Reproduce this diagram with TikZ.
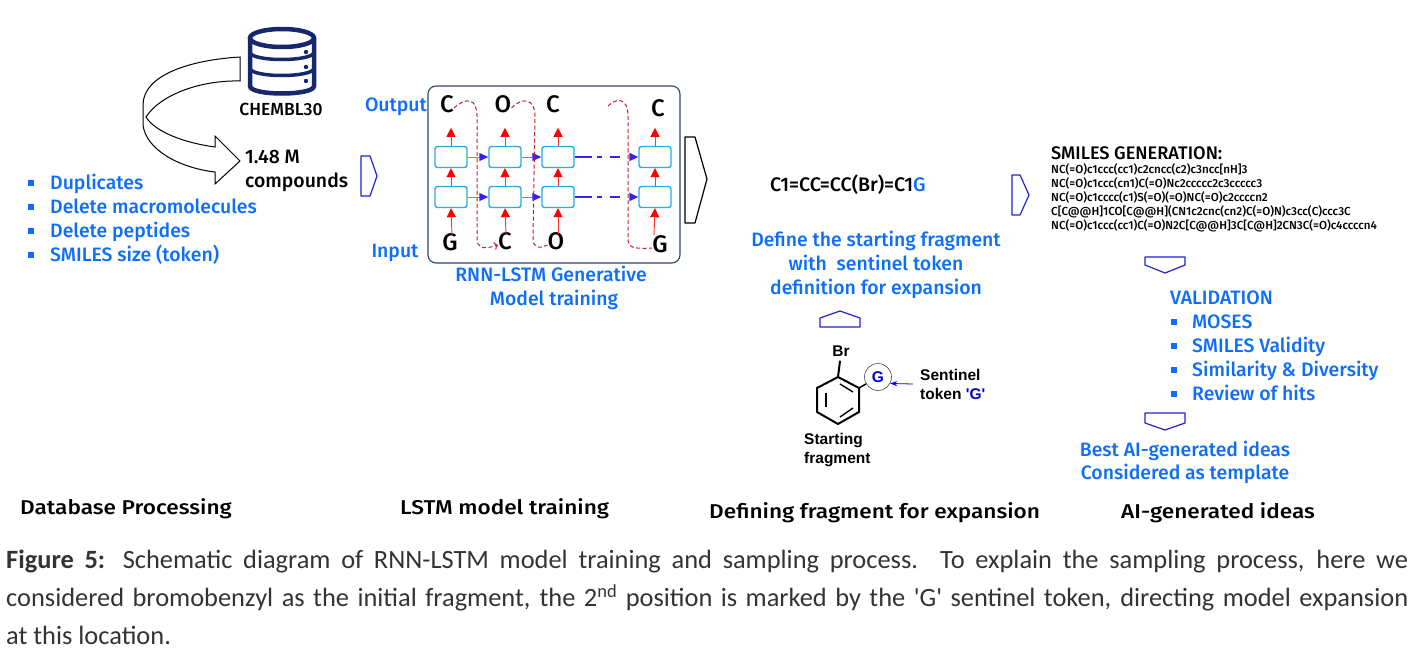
\documentclass[tikz,border=0pt]{standalone}
\usepackage{fontspec}
\usepackage{tikz}
\usepackage{xcolor}
\usetikzlibrary{arrows.meta}
\setmainfont{Carlito}
\newfontfamily\capfont{Carlito}
\newfontfamily\din[UprightFont=* Medium]{Fira Sans}
\newfontfamily\dinwide[UprightFont=* Medium,FakeStretch=1.13]{Fira Sans}
\newfontfamily\arialb{Liberation Sans Bold}
\definecolor{labelblue}{HTML}{0D6EFD}
\definecolor{navy}{HTML}{14286B}
\definecolor{chevblue}{HTML}{2222CC}
\definecolor{cellblue}{HTML}{29ABE2}
\definecolor{flowblue}{HTML}{3A1FF0}
\definecolor{framenavy}{HTML}{2F4468}
\definecolor{capgrey}{HTML}{333333}
\definecolor{loopred}{HTML}{C0202A}

\begin{document}
\begin{tikzpicture}[x=1pt,y=-1pt,
    lab/.style={font=\din\fontsize{19.4}{20}\selectfont,text height=13pt,text depth=4pt,inner sep=0pt,yshift=-2pt},
    bluelab/.style={lab,text=labelblue},
    leftlab/.style={bluelab,anchor=west},
    steplab/.style={lab,font=\dinwide\fontsize{20}{22}\selectfont,anchor=west},
    letter/.style={lab,font=\din\fontsize{24}{24}\selectfont},
    smiles/.style={font=\din\fontsize{11.6}{12}\selectfont,anchor=west,inner sep=0pt,text height=9pt,text depth=3pt},
    arial/.style={font=\arialb\fontsize{15.5}{16}\selectfont,anchor=west,inner sep=0pt,text height=11pt,text depth=4pt},
    square/.style={fill=labelblue,minimum size=5.5pt,inner sep=0pt},
    cell/.style={draw=cellblue,line width=1.4pt,rounded corners=2.5pt,fill=white,minimum width=32pt,minimum height=21pt,inner sep=0pt},
    chevron/.style={draw=chevblue,line width=1.2pt,line join=round},
    redup/.style={red!80,line width=.9pt,-{Triangle[length=9pt,width=9pt,color=red]}},
    flow/.style={flowblue!60,line width=.9pt,-{Triangle[length=9pt,width=8pt,color=flowblue]}},
    flowgap/.style={flowblue,line width=1.7pt,dash pattern=on 17pt off 5pt on 5pt off 8pt on 10pt off 40pt,-{Triangle[length=9pt,width=8pt]}},
    loopback/.style={loopred,dash pattern=on 4pt off 2.5pt,line width=1pt},
    bond/.style={line width=2pt}]
  \useasboundingbox (0,0) rectangle (1417,648);

  % database
  \draw[navy,line width=4.5pt,fill=white] (250,38) -- (250,86) .. controls (250,96) and (314,96) .. (314,86) -- (314,38);
  \draw[navy,line width=4.5pt] (282,38) ellipse (32 and 9);
  \draw[navy,line width=3.5pt] (250,52) .. controls (250,62) and (314,62) .. (314,52);
  \draw[navy,line width=3.5pt] (250,68) .. controls (250,78) and (314,78) .. (314,68);
  \fill[navy] (306,52) circle (2.2) (306,67) circle (2.2) (306,81) circle (2.2);
  \node[lab,font=\din\fontsize{17.5}{18}\selectfont] (chembl) at (281,109) {CHEMBL30};

  % twisted arrow
  \draw[line width=1pt,line join=miter,fill=white] (240,57) .. controls (190,60) and (143,75) .. (143,105)
    -- (143,125) .. controls (146,150) and (180,168) .. (215,172)
    -- (215,184) -- (240,161) -- (215,136) -- (215,147)
    .. controls (185,143) and (155,132) .. (146,117)
    .. controls (160,95) and (200,80) .. (240,81) -- cycle;

  \node[lab,anchor=west] (count) at (245,157) {1.48 M};
  \node[lab,anchor=west] (compounds) at (245,181) {compounds};

  % database filters
  \node[square] (b1) at (31,183) {};
  \node[square] (b2) at (31,207) {};
  \node[square] (b3) at (31,231) {};
  \node[square] (b4) at (31,255) {};
  \node[leftlab] (dup) at (50,183) {Duplicates};
  \node[leftlab] (macro) at (50,207) {Delete macromolecules};
  \node[leftlab] (pep) at (50,231) {Delete peptides};
  \node[leftlab] (size) at (50,255) {SMILES size (token)};

  \draw[chevron] (361,156) -- (370,156) -- (377,176) -- (370,196) -- (361,196) -- cycle;

  % network
  \node[draw=framenavy,line width=1.1pt,rounded corners=8pt,minimum width=252pt,minimum height=177pt,inner sep=0pt] (frame) at (554,174.5) {};
  \node[bluelab] (output) at (396,105) {Output};
  \node[bluelab] (input) at (395,251) {Input};

  \node[cell] (T1) at (451,157) {};
  \node[cell] (T2) at (505,157) {};
  \node[cell] (T3) at (558,157) {};
  \node[cell] (T4) at (655,157) {};
  \node[cell] (L1) at (451,197) {};
  \node[cell] (L2) at (505,197) {};
  \node[cell] (L3) at (558,197) {};
  \node[cell] (L4) at (655,197) {};

  \node[letter] (O1) at (447,106) {C};
  \node[letter] (O2) at (503,106) {O};
  \node[letter] (O3) at (553,106) {C};
  \node[letter] (O4) at (658,110) {C};
  \node[letter] (I1) at (450,244) {G};
  \node[letter] (I2) at (505,243) {C};
  \node[letter] (I3) at (556,243) {O};
  \node[letter] (I4) at (660,246) {G};

  \draw[redup] (T1.north) -- ++(0,-18);
  \draw[redup] (T2.north) -- ++(0,-18);
  \draw[redup] (T3.north) -- ++(0,-18);
  \draw[redup] (T4.north) -- ++(0,-18);
  \draw[redup] (L1.north) -- (T1.south);
  \draw[redup] (L2.north) -- (T2.south);
  \draw[redup] (L3.north) -- (T3.south);
  \draw[redup] (L4.north) -- (T4.south);
  \draw[redup] (I1.north) ++(2,-2) -- (L1.south);
  \draw[redup] (I2.north) ++(1,-2) -- (L2.south);
  \draw[redup] (I3.north) ++(2,-2) -- (L3.south);
  \draw[redup] (I4.north) ++(-6,-4) -- (L4.south);

  \draw[flow] (T1) -- (T2);
  \draw[flow] (T2) -- (T3);
  \draw[flowgap] (T3) -- (T4);
  \draw[flow] (L1) -- (L2);
  \draw[flow] (L2) -- (L3);
  \draw[flowgap] (L3) -- (L4);

  \coordinate (gapstart) at (608,106);
  \draw[loopback,->] (O1.east) .. controls (466,97) and (477,98) .. (477,116) -- (477,238) .. controls (477,248) and (482,250) .. (I2.west);
  \draw[loopback] (O2.east) .. controls (522,97) and (535,98) .. (535,116) -- (533,238) .. controls (533,248) and (538,249) .. (I3.west);
  \draw[loopback] (gapstart) .. controls (617,97) and (628,98) .. (628,116) -- (628,238) .. controls (628,248) and (633,249) .. (I4.west);

  \node[bluelab] (rnn) at (551,275) {RNN-LSTM Generative};
  \node[bluelab] (mod) at (554,299) {Model training};

  \draw[chevron,draw=black] (685,137) -- (695,137) -- (707,179) -- (695,223) -- (685,223) -- cycle;

  % fragment
  \node[lab,anchor=west,font=\din\fontsize{19.6}{20}\selectfont] (seed) at (770,185) {C1=CC=CC(Br)=C1\textcolor{labelblue}{G}};
  \draw[chevron] (1012,175) -- (1020,175) -- (1029,195) -- (1020,215) -- (1012,215) -- cycle;
  \node[bluelab] (def1) at (876,240) {Define the starting fragment};
  \node[bluelab] (def2) at (876,264) {with\ \ sentinel token};
  \node[bluelab] (def3) at (876,288) {definition for expansion};
  \draw[chevron] (820,327) -- (820,318) -- (840,311) -- (860,318) -- (860,327) -- cycle;

  % ring
  \draw[bond] (838,377) -- (859,388) -- (859,412) -- (838,424) -- (817,412) -- (817,388) -- cycle;
  \draw[bond,line width=1.4pt] (840,384) -- (853,392);
  \draw[bond,line width=1.4pt] (826,393) -- (826,407);
  \draw[bond,line width=1.4pt] (840,417) -- (853,408);
  \node[arial,anchor=center] (br) at (841,353) {Br};
  \node[draw=black!70,circle,minimum size=27pt,inner sep=0pt,line width=.6pt,font=\arialb\fontsize{15.5}{16}\selectfont,text=blue!85!black] (tok) at (878,377) {G};
  \draw[bond] (838,377) -- (br);
  \draw[bond,line width=1.5pt] (859,388) -- (tok);
  \coordinate (tokfrom) at (913,384);
  \draw[blue,line width=.8pt,-{Stealth[length=7pt,width=5pt]}] (tokfrom) -- (tok.-28);
  \node[arial] (sent1) at (920,377) {Sentinel};
  \node[arial] (sent2) at (920,396) {token \textcolor{blue!85!black}{'G'}};
  \node[arial] (start1) at (804,441) {Starting};
  \node[arial] (start2) at (804,460) {fragment};

  % generated
  \draw[chevron] (1145,257) -- (1185,257) -- (1185,265) -- (1165,273) -- (1145,265) -- cycle;
  \node[lab,anchor=west,font=\din\fontsize{18.2}{18}\selectfont] (gen) at (1051,153) {SMILES GENERATION:};
  \node[smiles] (s1) at (1051,170) {NC(=O)c1ccc(cc1)c2cncc(c2)c3ncc[nH]3};
  \node[smiles] (s2) at (1051,184) {NC(=O)c1ccc(cn1)C(=O)Nc2ccccc2c3ccccc3};
  \node[smiles] (s3) at (1051,198) {NC(=O)c1cccc(c1)S(=O)(=O)NC(=O)c2ccccn2};
  \node[smiles] (s4) at (1051,212) {C[C@@H]1CO[C@@H](CN1c2cnc(cn2)C(=O)N)c3cc(C)ccc3C};
  \node[smiles] (s5) at (1051,226) {NC(=O)c1ccc(cc1)C(=O)N2C[C@@H]3C[C@H]2CN3C(=O)c4ccccn4};

  % validation
  \node[leftlab] (val) at (1170,298) {VALIDATION};
  \node[square] (v1) at (1174,322) {};
  \node[square] (v2) at (1174,346) {};
  \node[square] (v3) at (1174,370) {};
  \node[square] (v4) at (1174,394) {};
  \node[leftlab] (moses) at (1192,322) {MOSES};
  \node[leftlab] (valid) at (1192,346) {SMILES Validity};
  \node[leftlab] (simil) at (1192,370) {Similarity \& Diversity};
  \node[leftlab] (hits) at (1192,394) {Review of hits};
  \draw[chevron] (1145,413) -- (1185,413) -- (1185,423) -- (1165,430) -- (1145,423) -- cycle;
  \node[bluelab] (best) at (1185,450) {Best AI-generated ideas};
  \node[bluelab] (templ) at (1185,473) {Considered as template};

  % stage titles
  \node[steplab] (st1) at (20,508) {Database Processing};
  \node[steplab] (st2) at (400,508) {LSTM model training};
  \node[steplab] (st3) at (709,512) {Defining fragment for expansion};
  \node[steplab] (st4) at (1121,512) {AI-generated ideas};

  % caption
  \node[anchor=north west,inner sep=0pt,text width=1402pt,align=justify,text=capgrey,font=\capfont\fontsize{26.4}{38}\selectfont] (cap) at (6,550)
    {\textbf{Figure 5:} Schematic diagram of RNN-LSTM model training and sampling process. To explain the sampling process, here we\linebreak
    considered bromobenzyl as the initial fragment, the 2\textsuperscript{nd} position is marked by the 'G' sentinel token, directing model expansion\linebreak
    at this location.};
\end{tikzpicture}
\end{document}
